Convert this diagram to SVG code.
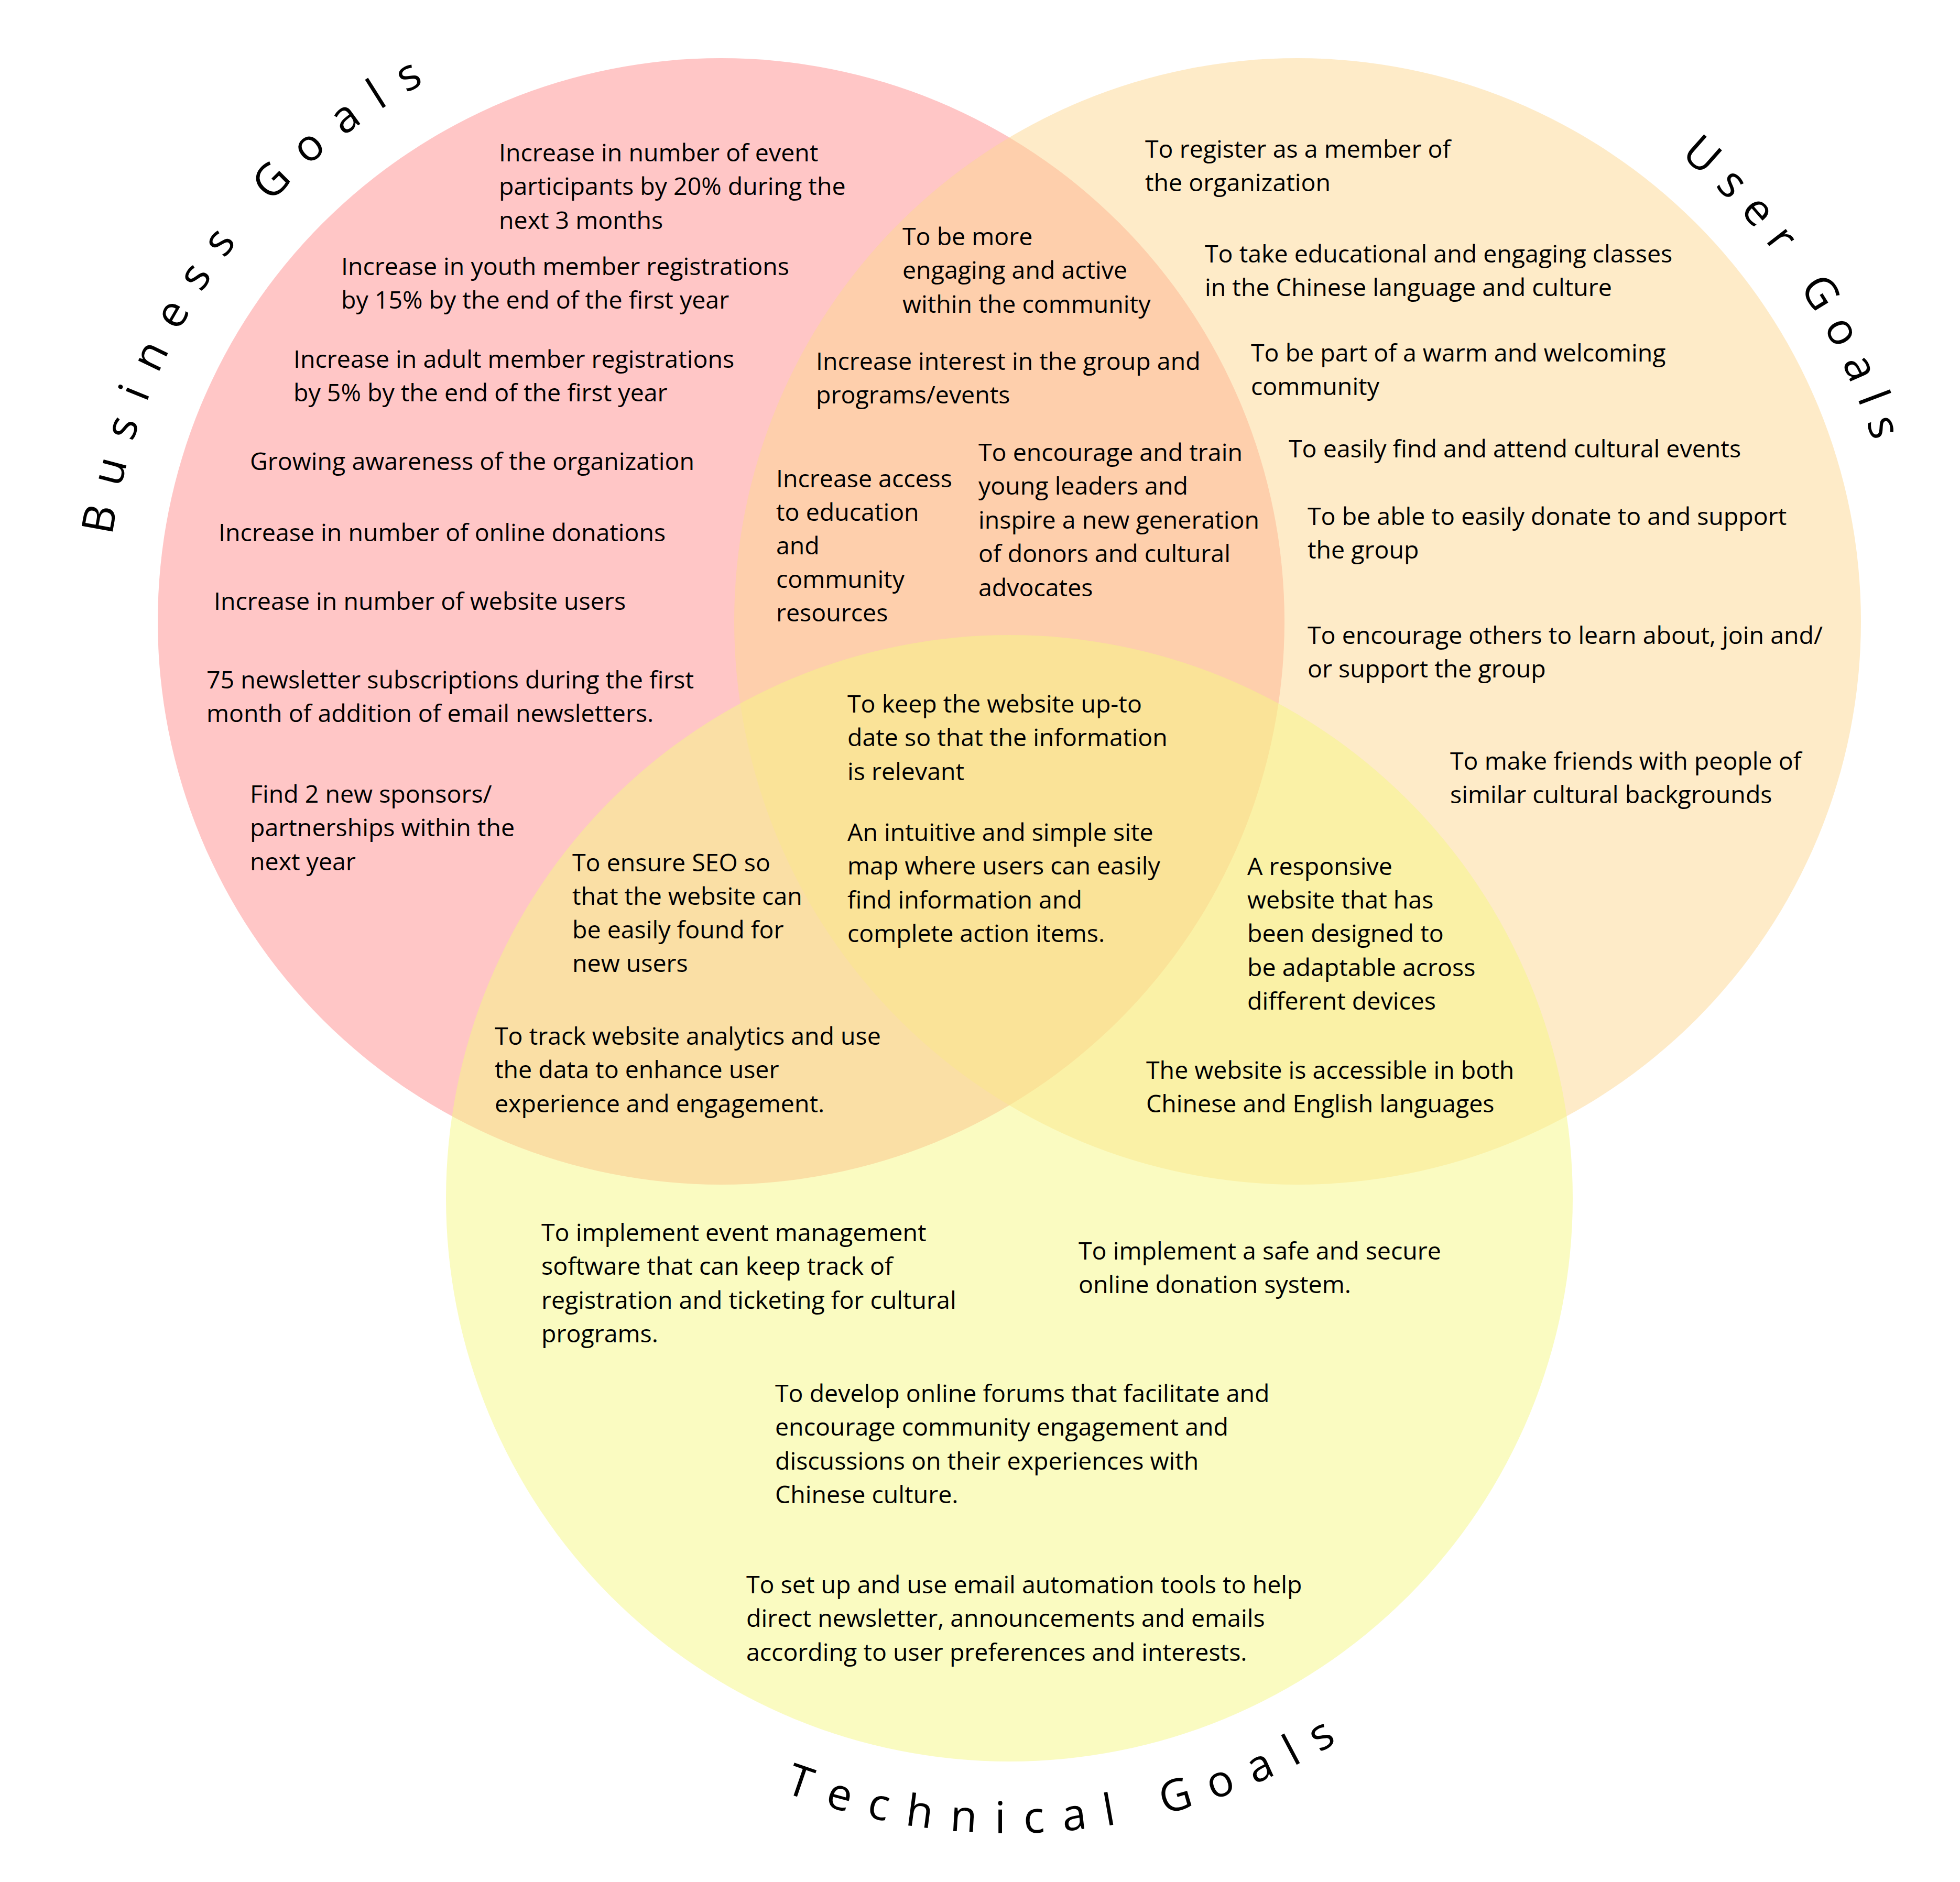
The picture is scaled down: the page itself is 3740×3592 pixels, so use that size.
<svg xmlns="http://www.w3.org/2000/svg" width="3740" height="3592" viewBox="0 0 3740 3592">
<style>
.t{font-family:"Open Sans","Noto Sans","Liberation Sans",sans-serif;font-size:46.5px;fill:#000}
.lbl{font-family:"Open Sans","Noto Sans","Liberation Sans",sans-serif;font-size:84px;fill:#000}
.c{fill-opacity:0.5;stroke:none}
</style>
<defs>
<path id="pb" d="M 203 1186 A 1173 1173 0 0 1 2549 1186"/>
<path id="pu" d="M 2476 36 A 1150 1150 0 0 1 3626 1186"/>
<path id="pt" d="M 714 2287 A 1212 1212 0 0 0 3138 2287"/>
</defs>
<rect width="3740" height="3592" fill="#ffffff"/>
<g id="circle-business"><circle class="c" cx="1376" cy="1186" r="1075" fill="#FF8D8D"/></g>
<g id="circle-user"><circle class="c" cx="2476" cy="1186" r="1075" fill="#FDD791"/></g>
<g id="circle-technical"><circle class="c" cx="1926" cy="2287" r="1075" fill="#F5F783"/></g>

<g id="label-business"><text class="lbl" letter-spacing="38.5"><textPath href="#pb" startOffset="164">Business Goals</textPath></text></g>
<g id="label-user"><text class="lbl" letter-spacing="27"><textPath href="#pu" startOffset="790">User Goals</textPath></text></g>
<g id="label-technical"><text class="lbl" letter-spacing="35"><textPath href="#pt" startOffset="1464">Technical Goals</textPath></text></g>

<g id="b1"><text class="t" x="952" y="308"><tspan x="952">Increase in number of event</tspan><tspan x="952" dy="64.4">participants by 20% during the</tspan><tspan x="952" dy="64.4">next 3 months</tspan></text></g>
<g id="b2"><text class="t" x="651" y="525"><tspan x="651">Increase in youth member registrations</tspan><tspan x="651" dy="64.4">by 15% by the end of the first year</tspan></text></g>
<g id="b3"><text class="t" x="560" y="702"><tspan x="560">Increase in adult member registrations</tspan><tspan x="560" dy="64.4">by 5% by the end of the first year</tspan></text></g>
<g id="b4"><text class="t" x="477" y="897">Growing awareness of the organization</text></g>
<g id="b5"><text class="t" x="417" y="1033">Increase in number of online donations</text></g>
<g id="b6"><text class="t" x="408" y="1164">Increase in number of website users</text></g>
<g id="b7"><text class="t" x="394" y="1314"><tspan x="394">75 newsletter subscriptions during the first</tspan><tspan x="394" dy="64.4">month of addition of email newsletters.</tspan></text></g>
<g id="b8"><text class="t" x="477" y="1532"><tspan x="477">Find 2 new sponsors/</tspan><tspan x="477" dy="64.4">partnerships within the</tspan><tspan x="477" dy="64.4">next year</tspan></text></g>

<g id="bu1"><text class="t" x="1722" y="468"><tspan x="1722">To be more</tspan><tspan x="1722" dy="64.4">engaging and active</tspan><tspan x="1722" dy="64.4">within the community</tspan></text></g>
<g id="bu2"><text class="t" x="1557" y="706"><tspan x="1557">Increase interest in the group and</tspan><tspan x="1557" dy="64.4">programs/events</tspan></text></g>
<g id="bu3"><text class="t" x="1481" y="930"><tspan x="1481">Increase access</tspan><tspan x="1481" dy="64">to education</tspan><tspan x="1481" dy="64">and</tspan><tspan x="1481" dy="64">community</tspan><tspan x="1481" dy="64">resources</tspan></text></g>
<g id="bu4"><text class="t" x="1867" y="880"><tspan x="1867">To encourage and train</tspan><tspan x="1867" dy="64.4">young leaders and</tspan><tspan x="1867" dy="64.4">inspire a new generation</tspan><tspan x="1867" dy="64.4">of donors and cultural</tspan><tspan x="1867" dy="64.4">advocates</tspan></text></g>

<g id="u1"><text class="t" x="2185" y="301"><tspan x="2185">To register as a member of</tspan><tspan x="2185" dy="64.4">the organization</tspan></text></g>
<g id="u2"><text class="t" x="2299" y="501"><tspan x="2299">To take educational and engaging classes</tspan><tspan x="2299" dy="64.4">in the Chinese language and culture</tspan></text></g>
<g id="u3"><text class="t" x="2387" y="690"><tspan x="2387">To be part of a warm and welcoming</tspan><tspan x="2387" dy="64.4">community</tspan></text></g>
<g id="u4"><text class="t" x="2459" y="873">To easily find and attend cultural events</text></g>
<g id="u5"><text class="t" x="2495" y="1002"><tspan x="2495">To be able to easily donate to and support</tspan><tspan x="2495" dy="64.4">the group</tspan></text></g>
<g id="u6"><text class="t" x="2495" y="1229"><tspan x="2495">To encourage others to learn about, join and/</tspan><tspan x="2495" dy="64.4">or support the group</tspan></text></g>
<g id="u7"><text class="t" x="2767" y="1469"><tspan x="2767">To make friends with people of</tspan><tspan x="2767" dy="64.4">similar cultural backgrounds</tspan></text></g>

<g id="all1"><text class="t" x="1617" y="1360"><tspan x="1617">To keep the website up-to</tspan><tspan x="1617" dy="64.4">date so that the information</tspan><tspan x="1617" dy="64.4">is relevant</tspan></text></g>
<g id="all2"><text class="t" x="1617" y="1605"><tspan x="1617">An intuitive and simple site</tspan><tspan x="1617" dy="64.4">map where users can easily</tspan><tspan x="1617" dy="64.4">find information and</tspan><tspan x="1617" dy="64.4">complete action items.</tspan></text></g>

<g id="bt1"><text class="t" x="1092" y="1663"><tspan x="1092">To ensure SEO so</tspan><tspan x="1092" dy="64">that the website can</tspan><tspan x="1092" dy="64">be easily found for</tspan><tspan x="1092" dy="64">new users</tspan></text></g>
<g id="bt2"><text class="t" x="944" y="1994"><tspan x="944">To track website analytics and use</tspan><tspan x="944" dy="64.4">the data to enhance user</tspan><tspan x="944" dy="64.4">experience and engagement.</tspan></text></g>

<g id="ut1"><text class="t" x="2380" y="1670"><tspan x="2380">A responsive</tspan><tspan x="2380" dy="64.2">website that has</tspan><tspan x="2380" dy="64.2">been designed to</tspan><tspan x="2380" dy="64.2">be adaptable across</tspan><tspan x="2380" dy="64.2">different devices</tspan></text></g>
<g id="ut2"><text class="t" x="2187" y="2059"><tspan x="2187">The website is accessible in both</tspan><tspan x="2187" dy="64.4">Chinese and English languages</tspan></text></g>

<g id="t1"><text class="t" x="1033" y="2369"><tspan x="1033">To implement event management</tspan><tspan x="1033" dy="64.4">software that can keep track of</tspan><tspan x="1033" dy="64.4">registration and ticketing for cultural</tspan><tspan x="1033" dy="64.4">programs.</tspan></text></g>
<g id="t2"><text class="t" x="2058" y="2404"><tspan x="2058">To implement a safe and secure</tspan><tspan x="2058" dy="64.4">online donation system.</tspan></text></g>
<g id="t3"><text class="t" x="1479" y="2676"><tspan x="1479">To develop online forums that facilitate and</tspan><tspan x="1479" dy="64.4">encourage community engagement and</tspan><tspan x="1479" dy="64.4">discussions on their experiences with</tspan><tspan x="1479" dy="64.4">Chinese culture.</tspan></text></g>
<g id="t4"><text class="t" x="1424" y="3041"><tspan x="1424">To set up and use email automation tools to help</tspan><tspan x="1424" dy="64.4">direct newsletter, announcements and emails</tspan><tspan x="1424" dy="64.4">according to user preferences and interests.</tspan></text></g>
</svg>
